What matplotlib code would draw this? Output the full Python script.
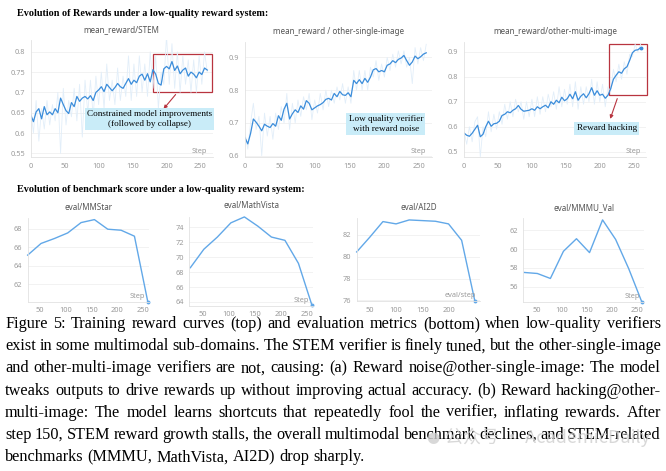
import matplotlib
matplotlib.use("Agg")
import matplotlib.pyplot as plt
import numpy as np
from matplotlib.patches import Rectangle

# ---------------- data ----------------
steps = np.arange(0, 261, 4)

stem_smooth = [0.645, 0.628, 0.652, 0.660, 0.635, 0.665, 0.645, 0.652, 0.645, 0.660, 0.650,
               0.686, 0.670, 0.655, 0.648, 0.675, 0.665, 0.690, 0.678, 0.686, 0.690, 0.684,
               0.692, 0.680, 0.700, 0.706, 0.714, 0.702, 0.720, 0.712, 0.704, 0.712, 0.722,
               0.714, 0.710, 0.722, 0.734, 0.720, 0.730, 0.724, 0.740, 0.745, 0.730, 0.746,
               0.726, 0.756, 0.745, 0.722, 0.718, 0.758, 0.764, 0.758, 0.776, 0.754, 0.765,
               0.746, 0.755, 0.760, 0.740, 0.750, 0.745, 0.736, 0.750, 0.744, 0.760, 0.755]
stem_raw = [0.66, 0.60, 0.68, 0.58, 0.66, 0.61, 0.68, 0.62, 0.67, 0.63, 0.70, 0.55, 0.71, 0.62,
            0.68, 0.64, 0.71, 0.63, 0.72, 0.59, 0.73, 0.65, 0.73, 0.64, 0.74, 0.67, 0.75, 0.66,
            0.77, 0.68, 0.73, 0.67, 0.76, 0.68, 0.74, 0.69, 0.79, 0.68, 0.77, 0.69, 0.79, 0.70,
            0.77, 0.69, 0.80, 0.71, 0.79, 0.66, 0.75, 0.72, 0.84, 0.72, 0.82, 0.71, 0.80, 0.70,
            0.79, 0.72, 0.78, 0.70, 0.78, 0.70, 0.79, 0.72, 0.80, 0.75]

single_smooth = [0.655, 0.636, 0.668, 0.712, 0.702, 0.690, 0.676, 0.696, 0.690, 0.686, 0.698,
                 0.690, 0.722, 0.708, 0.742, 0.760, 0.712, 0.728, 0.740, 0.732, 0.752, 0.742,
                 0.768, 0.760, 0.740, 0.746, 0.752, 0.756, 0.762, 0.772, 0.775, 0.770, 0.790,
                 0.780, 0.796, 0.786, 0.784, 0.792, 0.780, 0.830, 0.820, 0.832, 0.820, 0.836,
                 0.824, 0.840, 0.862, 0.866, 0.856, 0.860, 0.856, 0.876, 0.880, 0.890, 0.884,
                 0.894, 0.898, 0.906, 0.890, 0.876, 0.886, 0.904, 0.896, 0.902, 0.910, 0.914]
single_raw = [0.67, 0.62, 0.70, 0.76, 0.68, 0.72, 0.60, 0.73, 0.66, 0.72, 0.65, 0.73, 0.68, 0.75,
              0.70, 0.79, 0.68, 0.76, 0.70, 0.77, 0.72, 0.78, 0.74, 0.79, 0.71, 0.77, 0.73, 0.79,
              0.74, 0.80, 0.75, 0.80, 0.76, 0.81, 0.77, 0.82, 0.76, 0.81, 0.76, 0.86, 0.80, 0.86,
              0.80, 0.86, 0.80, 0.87, 0.84, 0.89, 0.83, 0.88, 0.84, 0.90, 0.86, 0.91, 0.87, 0.92,
              0.88, 0.92, 0.87, 0.90, 0.82, 0.93, 0.88, 0.93, 0.89, 0.94]

multi_smooth = [0.575, 0.566, 0.562, 0.574, 0.590, 0.606, 0.560, 0.570, 0.600, 0.622, 0.602,
                0.612, 0.614, 0.622, 0.645, 0.650, 0.660, 0.656, 0.666, 0.672, 0.685, 0.670,
                0.662, 0.664, 0.666, 0.672, 0.666, 0.680, 0.672, 0.680, 0.686, 0.676, 0.700,
                0.690, 0.706, 0.696, 0.718, 0.704, 0.712, 0.730, 0.712, 0.740, 0.706, 0.722,
                0.732, 0.716, 0.732, 0.756, 0.726, 0.744, 0.726, 0.730, 0.714, 0.726, 0.752,
                0.790, 0.806, 0.820, 0.814, 0.832, 0.840, 0.866, 0.896, 0.906, 0.908, 0.916]
multi_raw = [0.58, 0.53, 0.60, 0.54, 0.62, 0.64, 0.48, 0.60, 0.56, 0.66, 0.58, 0.65, 0.59, 0.66,
             0.61, 0.69, 0.63, 0.70, 0.64, 0.71, 0.66, 0.70, 0.63, 0.70, 0.64, 0.71, 0.64, 0.72,
             0.65, 0.72, 0.66, 0.73, 0.68, 0.74, 0.67, 0.76, 0.68, 0.75, 0.69, 0.77, 0.68, 0.78,
             0.67, 0.76, 0.69, 0.76, 0.70, 0.79, 0.69, 0.78, 0.70, 0.77, 0.68, 0.76, 0.74, 0.83,
             0.78, 0.85, 0.79, 0.86, 0.81, 0.89, 0.88, 0.93, 0.90, 0.93]

eval_steps = [26, 52, 78, 104, 130, 156, 182, 208, 234, 260]
ai2d_steps = [25, 50, 75, 100, 125, 150, 175, 200, 225, 250]
mmstar = [65.15, 66.4, 66.93, 67.53, 68.64, 68.96, 67.93, 67.82, 67.18, 60.15]
mathvista = [68.58, 71.05, 72.68, 74.58, 75.37, 74.13, 72.68, 72.24, 69.16, 63.55]
ai2d = [80.43, 81.78, 83.2, 82.99, 83.35, 83.29, 83.23, 82.99, 81.49, 75.99]
mmmu = [57.52, 57.41, 56.88, 59.78, 61.12, 59.64, 63.13, 61.05, 57.94, 54.41]

caption = [
    "Figure 5: Training reward curves (top) and evaluation metrics (bottom) when low-quality verifiers",
    "exist in some multimodal sub-domains. The STEM verifier is finely tuned, but the other-single-image",
    "and other-multi-image verifiers are not, causing: (a) Reward noise@other-single-image: The model",
    "tweaks outputs to drive rewards up without improving actual accuracy. (b) Reward hacking@other-",
    "multi-image: The model learns shortcuts that repeatedly fool the verifier, inflating rewards. After",
    "step 150, STEM reward growth stalls, the overall multimodal benchmark declines, and STEM-related",
    "benchmarks (MMMU, MathVista, AI2D) drop sharply.",
]

# ---------------- figure ----------------
W, H = 666, 471
fig = plt.figure(figsize=(W / 100, H / 100), dpi=100)
fig.patch.set_facecolor("white")

SANS = "Noto Sans"
SERIF = "Liberation Serif"
TICK_C = "#9a9a9a"
RAW_C = "#e2eef9"
LINE_C = "#3b8ddb"
EVAL_C = "#62a8e8"


def px_axes(x0, y0, x1, y1):
    # pixel box (top-left origin) -> axes
    return fig.add_axes([x0 / W, 1 - y1 / H, (x1 - x0) / W, (y1 - y0) / H])


def style(ax, title, yticks, xticks, ylab_fmt, steplabel="Step"):
    for s in ["top", "right"]:
        ax.spines[s].set_visible(False)
    for s in ["left", "bottom"]:
        ax.spines[s].set_color("#e2e2e2")
        ax.spines[s].set_linewidth(0.6)
    ax.set_yticks(yticks)
    ax.set_yticklabels([ylab_fmt(v) for v in yticks])
    ax.set_xticks(xticks)
    ax.tick_params(length=0, labelsize=5.3, labelcolor=TICK_C, pad=4)
    for lab in ax.get_xticklabels() + ax.get_yticklabels():
        lab.set_family(SANS)
    ax.grid(axis="y", color="#f0f0f0", lw=0.6)
    ax.set_axisbelow(True)
    ax.set_title(title, fontsize=5.8, color="#555555", family=SANS, pad=6)
    ax.text(0.97, 0.02, steplabel, transform=ax.transAxes, ha="right", va="bottom",
            fontsize=5.3, color=TICK_C, family=SANS)


def fmt_top(v):
    return ("%.2f" % v).rstrip("0")


def fmt_int(v):
    return "%d" % v


# headers
fig.text(17 / W, 1 - 13.5 / H, "Evolution of Rewards under a low-quality reward system:",
         fontsize=7.3, weight="bold", family=SERIF, va="center")
fig.text(17 / W, 1 - 190 / H, "Evolution of benchmark score under a low-quality reward system:",
         fontsize=7.3, weight="bold", family=SERIF, va="center")

# ---------- top row ----------
xt = [0, 50, 100, 150, 200, 250]
box_kw = dict(boxstyle="square,pad=0.25", fc="#c9ecf8", ec="none")
red = "#b8343f"

ax1 = px_axes(30.7, 40, 212.7, 157)
ax1.plot(steps, stem_raw, color=RAW_C, lw=0.6)
ax1.plot(steps, stem_smooth, color=LINE_C, lw=0.9)
ax1.set_xlim(0, 268)
ax1.set_ylim(0.541, 0.829)
style(ax1, "mean_reward/STEM", [0.55, 0.6, 0.65, 0.7, 0.75, 0.8], xt, fmt_top)
ax1.add_patch(Rectangle((180, 0.701), 87.5, 0.093, fill=False, ec=red, lw=0.9, clip_on=False))
ax1.annotate("", xy=(193, 0.654), xytext=(216, 0.700),
             arrowprops=dict(arrowstyle="-|>", color=red, lw=0.8, mutation_scale=5))
ax1.text(175, 0.634, "Constrained model improvements\n(followed by collapse)", ha="center",
         va="center", fontsize=6.6, family=SERIF, linespacing=1.3, bbox=box_kw)

ax2 = px_axes(245, 42, 431.8, 157)
ax2.plot(steps, single_raw, color=RAW_C, lw=0.6)
ax2.plot(steps, single_smooth, color=LINE_C, lw=0.9)
ax2.set_xlim(0, 268)
ax2.set_ylim(0.596, 0.947)
style(ax2, "mean_reward / other-single-image", [0.6, 0.7, 0.8, 0.9], xt, fmt_top)
ax2.text(202, 0.696, "Low quality verifier\nwith reward noise", ha="center", va="center",
         fontsize=6.6, family=SERIF, linespacing=1.3, bbox=box_kw)

ax3 = px_axes(464, 42, 646, 157)
ax3.plot(steps, multi_raw, color=RAW_C, lw=0.6)
ax3.plot(steps, multi_smooth, color=LINE_C, lw=0.9)
ax3.plot(steps[-1], multi_smooth[-1], "o", color=LINE_C, ms=1.8)
ax3.set_xlim(0, 268)
ax3.set_ylim(0.479, 0.939)
style(ax3, "mean_reward/other-multi-image", [0.5, 0.6, 0.7, 0.8, 0.9], xt, fmt_top)
ax3.add_patch(Rectangle((212.8, 0.727), 56, 0.204, fill=False, ec=red, lw=0.9, clip_on=False))
ax3.annotate("", xy=(214, 0.621), xytext=(227, 0.723),
             arrowprops=dict(arrowstyle="-|>", color=red, lw=0.8, mutation_scale=5))
ax3.text(210, 0.594, "Reward hacking", ha="center", va="center",
         fontsize=6.6, family=SERIF, bbox=box_kw)

# ---------- bottom row ----------
bx = [50, 100, 150, 200, 250]
panels = [
    ((27.7, 218.3, 148.8, 301.7), eval_steps, mmstar, "eval/MMStar", (26, 262), (60.15, 69.1),
     [62, 64, 66, 68], bx, "Step"),
    ((189.3, 216.7, 313, 305.7), eval_steps, mathvista, "eval/MathVista", (24, 262), (63.5, 75.4),
     [64, 66, 68, 70, 72, 74], bx, "Step"),
    ((356.7, 218.3, 480, 301), ai2d_steps, ai2d, "eval/AI2D", (25, 260), (75.95, 83.5),
     [76, 78, 80, 82], [50, 100, 150, 200], "eval/step"),
    ((523.3, 218.3, 643.7, 301.7), eval_steps, mmmu, "eval/MMMU_Val", (24, 264), (54.4, 63.3),
     [56, 58, 60, 62], bx, "Step"),
]
for rect, xs, ys, title, xl, yl, yt, xticks, slab in panels:
    ax = px_axes(*rect)
    ax.plot(xs, ys, color=EVAL_C, lw=1.0, clip_on=False)
    ax.plot(xs[-1], ys[-1], "o", color=EVAL_C, ms=1.8, clip_on=False)
    ax.set_xlim(*xl)
    ax.set_ylim(*yl)
    style(ax, title, yt, xticks, fmt_int, slab)

# ---------- caption (justified, word by word) ----------
renderer = fig.canvas.get_renderer()
cap_left, cap_right = 5, 661
cap_fs = 11.7
y0, dy = 328, 22.2
for i, line in enumerate(caption):
    words = line.split(" ")
    y = 1 - (y0 + i * dy) / H
    texts = [fig.text(0, y, w, fontsize=cap_fs, family=SERIF, va="baseline", ha="left")
             for w in words]
    widths = [t.get_window_extent(renderer).width for t in texts]
    if i < len(caption) - 1:
        gap = (cap_right - cap_left - sum(widths)) / (len(words) - 1)
    else:
        gap = cap_fs * 0.25 * 100 / 72
    x = cap_left
    for t, w in zip(texts, widths):
        t.set_x(x / W)
        x += w + gap

# watermark
fig.text(433 / W, 1 - 437 / H, "\u25cf", fontsize=11, color="#cfcfcf", va="center", ha="center",
         family="DejaVu Sans", alpha=0.8)
fig.text(445 / W, 1 - 437 / H, "公众号 · AcademicDaily", fontsize=13, color="#cfcfcf",
         va="center", ha="left", family=["Noto Sans CJK SC", "DejaVu Sans"], alpha=0.8)

fig.savefig("out.png", dpi=100)
